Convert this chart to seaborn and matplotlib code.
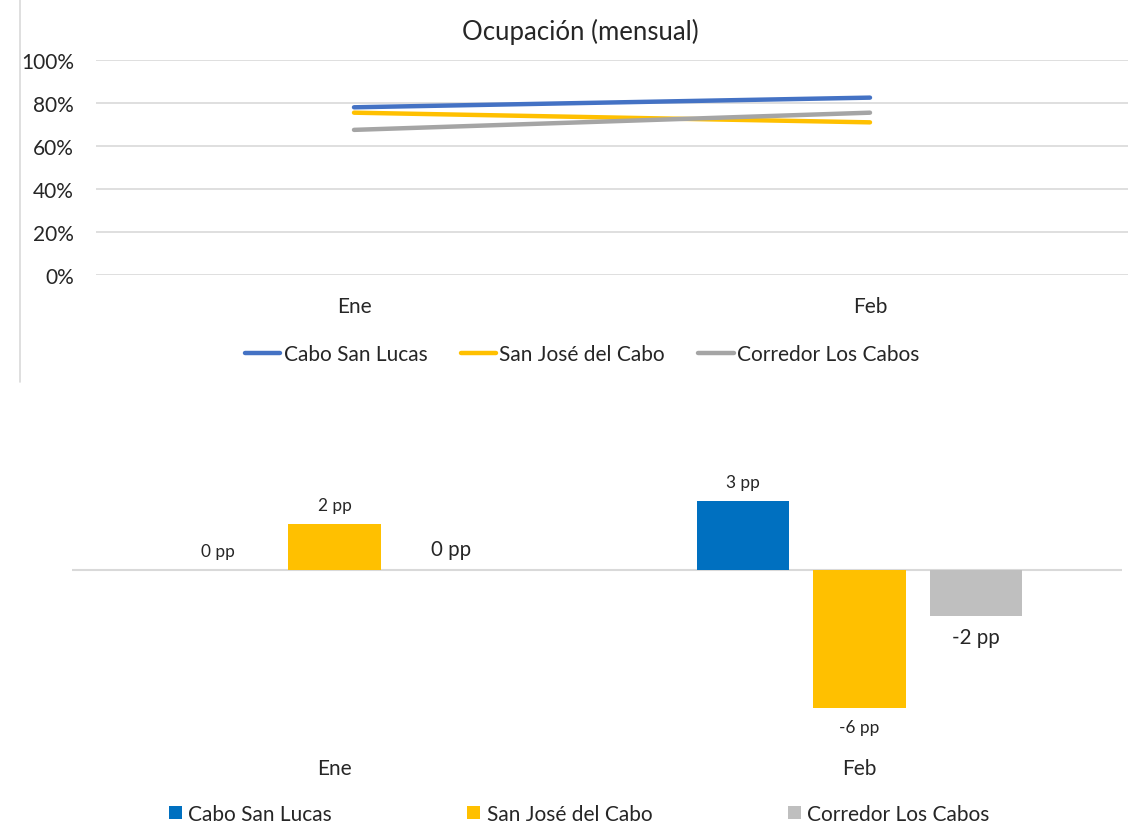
import numpy as np
import pandas as pd
import matplotlib
matplotlib.use('Agg')
import matplotlib.pyplot as plt
import seaborn as sns
from matplotlib.lines import Line2D
from matplotlib.ticker import PercentFormatter

# data
months = ['Ene', 'Feb']
zones = ['Cabo San Lucas', 'San José del Cabo', 'Corredor Los Cabos']
occ_csl = [0.78, 0.825]
occ_sjc = [0.755, 0.71]
occ_cor = [0.675, 0.755]
diff_csl = [0, 3]
diff_sjc = [2, -6]
diff_cor = [0, -2]

line_colors = ['#4472C4', '#FFC000', '#A5A5A5']
bar_colors = ['#0070C0', '#FFC000', '#BFBFBF']
label_sizes = [12.4, 12.4, 14.8]

df_occ = pd.DataFrame({
    'month': months * 3,
    'zone': [z for z in zones for _ in months],
    'value': occ_csl + occ_sjc + occ_cor,
})
df_diff = pd.DataFrame({
    'month': months * 3,
    'zone': [z for z in zones for _ in months],
    'value': diff_csl + diff_sjc + diff_cor,
})

sns.set_style('white')
plt.rcParams['font.family'] = ['Lato', 'DejaVu Sans']
plt.rcParams['text.color'] = '#262626'

W, H = 1143, 829
fig = plt.figure(figsize=(W / 100, H / 100), dpi=100)

def box(x0, y0, x1, y1):
    return [x0 / W, 1 - y1 / H, (x1 - x0) / W, (y1 - y0) / H]

# ---------------- top chart: occupancy lines
ax1 = fig.add_axes(box(96, 61, 1128, 276))
sns.lineplot(data=df_occ, x='month', y='value', hue='zone', hue_order=zones,
             palette=line_colors, lw=3.2, ax=ax1, solid_capstyle='round')
ax1.set_ylim(0, 1)
ax1.set_xlim(-0.5, 1.5)
ax1.set_yticks(np.arange(0, 1.01, 0.2))
ax1.yaxis.set_major_formatter(PercentFormatter(1.0, decimals=0))
ax1.grid(axis='y', color='#D9D9D9', lw=1.2)
ax1.grid(axis='x', visible=False)
for s in ax1.spines.values():
    s.set_visible(False)
ax1.tick_params(axis='y', length=0, pad=16, labelsize=15, labelcolor='#262626')
ax1.tick_params(axis='x', length=0, pad=15, labelsize=15, labelcolor='#262626')
ax1.set_xlabel('')
ax1.set_ylabel('')

h, l = ax1.get_legend_handles_labels()
leg1 = ax1.legend(h, l, loc='center', bbox_to_anchor=(582 / W, 1 - 355 / H),
                  bbox_transform=fig.transFigure, ncol=3, frameon=False,
                  fontsize=15, handlelength=1.7, handletextpad=0.15,
                  columnspacing=1.6)
for lh in leg1.legend_handles:
    lh.set_linewidth(3.2)

fig.text(580 / W, 1 - 32 / H, 'Ocupación (mensual)', ha='center', va='center',
         fontsize=18.5, color='#262626')

# thin border of the upper chart area
fig.add_artist(Line2D([20 / W, 20 / W], [1, 1 - 383 / H], color='#D9D9D9', lw=1.2))

# ---------------- bottom chart: difference in pp
ax2 = fig.add_axes(box(72, 480, 1122, 740))
sns.barplot(data=df_diff, x='month', y='value', hue='zone', hue_order=zones,
            palette=bar_colors, width=0.666, gap=0.21, saturation=1,
            linewidth=0, ax=ax2)
ax2.set_xlim(-0.5, 1.5)
ax2.set_ylim(-7.35, 3.96)
ax2.axhline(0, color='#D9D9D9', lw=1.5, zorder=0)
for s in ax2.spines.values():
    s.set_visible(False)
ax2.set_yticks([])
ax2.tick_params(axis='x', length=0, pad=14, labelsize=15, labelcolor='#262626')
ax2.set_xlabel('')
ax2.set_ylabel('')

for i, cont in enumerate(ax2.containers):
    vals = [b.get_height() for b in cont]
    texts = ax2.bar_label(cont, labels=[f'{v:.0f} pp' for v in vals], padding=8)
    for t in texts:
        t.set_fontsize(label_sizes[i])
        t.set_color('#262626')

h2, l2 = ax2.get_legend_handles_labels()
ax2.legend(h2, l2, loc='center', bbox_to_anchor=(579 / W, 1 - 815 / H),
           bbox_transform=fig.transFigure, ncol=3, frameon=False,
           fontsize=15, handlelength=0.63, handleheight=0.63, handletextpad=0.3,
           columnspacing=6.5)

fig.savefig('out.png', dpi=100)
